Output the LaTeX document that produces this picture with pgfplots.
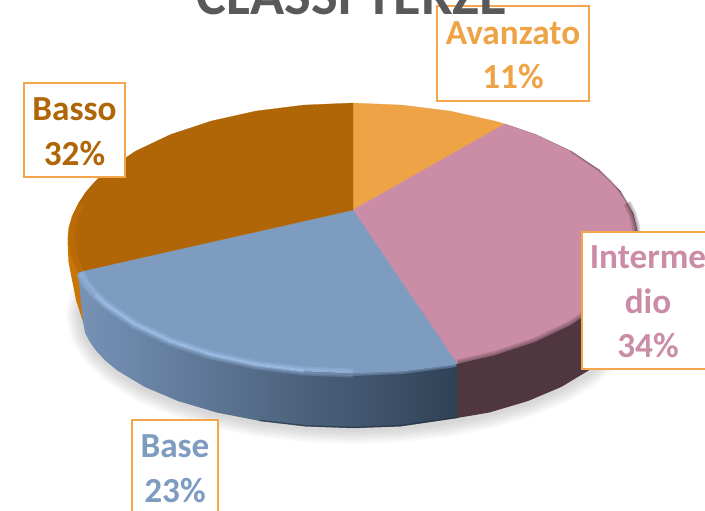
\documentclass[border=0pt]{standalone}
\usepackage{fontspec}
\setmainfont{Carlito}
\usepackage{pgfplots}
\pgfplotsset{compat=1.18}
\definecolor{avz}{HTML}{EFA347}
\definecolor{itm}{HTML}{CB8CA6}
\definecolor{bse}{HTML}{7E9BC0}
\definecolor{bso}{HTML}{B06506}
\definecolor{boxc}{HTML}{F5A64D}
\definecolor{ttl}{HTML}{595959}
\definecolor{rimO}{HTML}{C97508}
\definecolor{rimP}{HTML}{50373F}
\definecolor{sideA}{HTML}{7692B6}
\definecolor{sideB}{HTML}{566F8E}
\definecolor{sideC}{HTML}{2F4256}
\definecolor{bevel}{HTML}{A8CAF5}
\newcommand{\lbl}{\fontsize{35.2}{40}\selectfont\bfseries}
\begin{document}
\begin{tikzpicture}
\useasboundingbox (0,0) rectangle (705pt,511pt);
\clip (0,0) rectangle (705pt,511pt);
\begin{axis}[
    at={(0pt,0pt)}, anchor=south west,
    scale only axis, width=705pt, height=511pt,
    xmin=0, xmax=705, ymin=0, ymax=511,
    y dir=reverse,
    hide axis, clip=false,
    no markers,
    every axis plot/.append style={line join=round},
]
% soft shadow under the disc
\pgfplotsinvokeforeach{30,26,22,18,14,10,6}{
\addplot[draw=black, line width=#1pt, draw opacity=0.022, fill=none] coordinates {
    (625,314) (621,334) (608.6,353) (588.6,371.5) (561.4,388) (527.8,402) (489,413.6)
    (446,422) (400.2,427) (353,429) (305.8,427) (260,422) (217,413.6) (178.2,402)
    (144.6,388) (117.4,371.5) (97.4,353) (85.1,334) (81,314) (84,300) (100,270)
};
}
% sides
\addplot[draw=none, fill=rimO] coordinates {
    (86,192) (78,204) (72,216) (68.5,228) (67.5,240) (68.5,262) (72,280) (76,300) (83,322) (120,280)
} -- cycle;
\addplot[draw=none, fill=rimP] coordinates {
    (505,124) (535.8,134.4) (570.8,150.9) (599.5,170) (620.5,191.2) (633.5,214) (639,238) (636,275)
    (625,313) (620.9,333) (608.6,352.3) (588.6,370.5) (561.4,386.9) (527.8,401.1) (489,412.6)
    (457,418) (457,363)
} -- cycle;
\addplot[draw=none, left color=sideA, middle color=sideB, right color=sideC] coordinates {
    (78,272) (86.1,284.2) (95.6,295.1) (107,305.5) (135.5,324.8) (170.4,341.4) (211,354.9)
    (255.9,364.9) (303.7,370.9) (353,373) (402.3,370.9) (450.1,364.9) (457,363.6)
    (457,418) (400.2,426.3) (353,428) (305.8,426.3) (260,421) (217,412.6) (178.2,401.1)
    (144.6,386.9) (117.4,370.5) (106.5,361.6) (97.4,352.3) (90.3,342.8) (85.1,333) (83,322)
} -- cycle;
% top face, one area for each share
\addplot[draw=avz, line width=0.3pt, fill=avz] coordinates {
    (353,210) (353,103) (402.3,105.1) (450.1,111.1) (495,121.1) (505,124)
} -- cycle;
\addplot[draw=itm, line width=0.3pt, fill=itm] coordinates {
    (353,210) (505,124) (535.6,134.6) (570.5,151.2) (599,170.5) (610.4,180.9) (619.9,191.8)
    (627.3,203.1) (632.7,214.6) (635.9,226.2) (637,238) (635.9,249.8) (632.7,261.4)
    (627.3,272.9) (619.9,284.2) (610.4,295.1) (599,305.5) (570.5,324.8) (535.6,341.4)
    (495,354.9) (457,363.6)
} -- cycle;
\addplot[draw=bse, line width=0.3pt, fill=bse] coordinates {
    (353,210) (457,363.6) (450.1,364.9) (402.3,370.9) (353,373) (303.7,370.9) (255.9,364.9)
    (211,354.9) (170.4,341.4) (135.5,324.8) (107,305.5) (95.6,295.1) (86.1,284.2) (78,272)
} -- cycle;
\addplot[draw=bso, line width=0.3pt, fill=bso] coordinates {
    (353,210) (78,272) (73.3,261.4) (70.1,249.8) (69,238) (70.1,226.2) (73.3,214.6)
    (78.7,203.1) (86.1,191.8) (95.6,180.9) (107,170.5) (135.5,151.2) (170.4,134.6)
    (211,121.1) (255.9,111.1) (303.7,105.1) (353,103)
} -- cycle;
% bevel on the rim
\addplot[draw=rimO, line width=6pt, opacity=0.4] coordinates {
    (81,272) (76.3,261) (73,250) (72,238) (73,226) (76.3,215) (81.7,203)
};
\pgfplotsinvokeforeach{9,6}{
\addplot[draw=bevel, line width=#1pt, opacity=0.22] coordinates {
    (80,273) (86.1,284.2) (95.6,295.1) (107,305.5) (135.5,324.8) (170.4,341.4) (211,354.9)
    (255.9,364.9) (303.7,370.9) (353,373)
};
}
\addplot[draw=bevel, line width=3pt, opacity=0.45] coordinates {
    (95.6,295.1) (107,305.5) (135.5,324.8) (170.4,341.4) (211,354.9) (255.9,364.9) (303.7,370.9)
};
\pgfplotsinvokeforeach{7,4}{
\addplot[draw=bse, line width=#1pt, opacity=0.45] coordinates {
    (353,372.5) (402.3,370.4) (450.1,364.4) (456,363.2)
};
}
\pgfplotsinvokeforeach{8,5,2.5}{
\addplot[draw=rimP, line width=#1pt, opacity=0.2] coordinates {
    (458,363.4) (495,354.9) (535.6,341.4) (570.5,324.8) (599,305.5) (610.4,295.1) (619.9,284.2)
    (627.3,272.9) (632.7,261.4) (635.9,249.8) (637,238) (635.9,226.2) (632.7,214.6) (627.3,203.1)
};
}
\addplot[draw=rimP, line width=2pt, opacity=0.25] coordinates {
    (627.3,203.1) (619.9,191.8) (610.4,180.9) (599,170.5) (570.5,151.2)
};
\addplot[draw=sideC!70!black, line width=1.5pt, opacity=0.6] coordinates {
    (457,417.5) (400.2,425.8) (353,427.5) (305.8,425.8) (260,420.5)
};
% data labels
\draw[boxc, line width=2pt, fill=white] (axis cs:24,83) rectangle (axis cs:125,177);
\draw[boxc, line width=2pt, fill=white] (axis cs:437,6) rectangle (axis cs:589,101);
\draw[boxc, line width=2pt, fill=white] (axis cs:582,232) rectangle (axis cs:720,369);
\draw[boxc, line width=2pt, fill=white] (axis cs:132,420) rectangle (axis cs:218,530);
\node[anchor=base, inner sep=0pt, text=bso, font=\lbl] at (axis cs:74.5,120) {Basso};
\node[anchor=base, inner sep=0pt, text=bso, font=\lbl] at (axis cs:74.5,165) {32\%};
\node[anchor=base, inner sep=0pt, text=avz, font=\lbl] at (axis cs:513,44) {Avanzato};
\node[anchor=base, inner sep=0pt, text=avz, font=\lbl] at (axis cs:513,88) {11\%};
\node[anchor=base, inner sep=0pt, text=itm, font=\lbl] at (axis cs:648,268) {Interme};
\node[anchor=base, inner sep=0pt, text=itm, font=\lbl] at (axis cs:648,313) {dio};
\node[anchor=base, inner sep=0pt, text=itm, font=\lbl] at (axis cs:648,357) {34\%};
\node[anchor=base, inner sep=0pt, text=bse, font=\lbl] at (axis cs:175,457) {Base};
\node[anchor=base, inner sep=0pt, text=bse, font=\lbl] at (axis cs:175,502) {23\%};
% title, cut off by the top edge
\node[anchor=base, inner sep=0pt, text=ttl, font=\fontsize{56.4}{60}\selectfont\bfseries] at (axis cs:352,14) {CLASSI TERZE};
\end{axis}
\end{tikzpicture}
\end{document}
